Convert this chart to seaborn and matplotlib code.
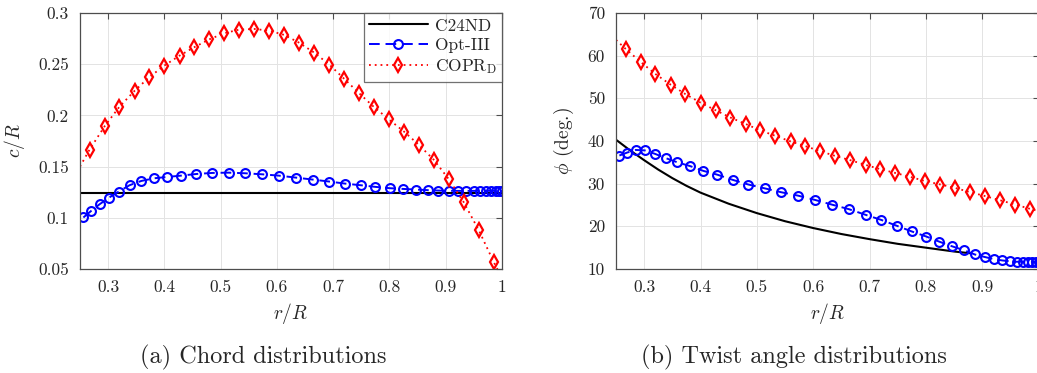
import numpy as np
import pandas as pd
import matplotlib
matplotlib.use("Agg")
import matplotlib.pyplot as plt
import seaborn as sns

# ---------------- data ----------------
# C24ND (baseline)
r_c24_chord = [0.25, 1.00]
c_c24 = [0.1247, 0.1247]
r_c24_twist = [0.25, 0.275, 0.30, 0.325, 0.35, 0.375, 0.40, 0.45, 0.50, 0.55,
               0.60, 0.65, 0.70, 0.75, 0.80, 0.85, 0.878]
phi_c24 = [40.3, 37.8, 35.5, 33.3, 31.3, 29.5, 27.9, 25.3, 23.1, 21.2,
           19.6, 18.2, 17.0, 15.9, 15.0, 14.1, 13.7]

# Opt-III
r_opt = [0.256, 0.270, 0.285, 0.301, 0.319, 0.338, 0.359, 0.382, 0.405, 0.430,
         0.457, 0.485, 0.514, 0.543, 0.573, 0.603, 0.633, 0.664, 0.693, 0.721,
         0.749, 0.775, 0.801, 0.824, 0.847, 0.868, 0.887, 0.905, 0.921, 0.936,
         0.950, 0.961, 0.972, 0.981, 0.989, 0.995, 1.000]
c_opt = [0.1003, 0.1068, 0.1133, 0.1195, 0.1256, 0.1318, 0.1360, 0.1386, 0.1399, 0.1412,
         0.1428, 0.1438, 0.1441, 0.1435, 0.1425, 0.1412, 0.1393, 0.1373, 0.1354, 0.1334,
         0.1318, 0.1302, 0.1289, 0.1282, 0.1276, 0.1270, 0.1266, 0.1264, 0.1263, 0.1263,
         0.1263, 0.1263, 0.1263, 0.1263, 0.1263, 0.1263, 0.1263]
phi_opt = [36.6, 37.3, 37.9, 37.8, 37.0, 36.0, 35.0, 34.1, 33.0, 32.1,
           30.9, 29.8, 28.9, 28.0, 27.2, 26.2, 25.1, 24.0, 22.7, 21.5,
           20.1, 18.8, 17.6, 16.4, 15.3, 14.4, 13.4, 12.8, 12.3, 12.0,
           11.8, 11.7, 11.7, 11.7, 11.7, 11.7, 11.7]

# COPR_D (first and last entries are line-only end points)
r_copr = [0.25, 0.267, 0.294, 0.320, 0.347, 0.373, 0.400, 0.427, 0.453, 0.480,
          0.506, 0.533, 0.560, 0.586, 0.613, 0.639, 0.666, 0.693, 0.719, 0.746,
          0.772, 0.799, 0.826, 0.852, 0.879, 0.905, 0.932, 0.959, 0.985, 1.000]
c_copr = [0.1500, 0.1666, 0.1896, 0.2084, 0.2240, 0.2373, 0.2487, 0.2584, 0.2666, 0.2743,
          0.2802, 0.2838, 0.2844, 0.2828, 0.2786, 0.2711, 0.2614, 0.2497, 0.2360, 0.2217,
          0.2084, 0.1961, 0.1841, 0.1714, 0.1565, 0.1380, 0.1152, 0.0876, 0.0571, 0.0410]
phi_copr = [63.7, 61.6, 58.5, 55.7, 53.2, 51.0, 49.0, 47.2, 45.5, 44.0,
            42.5, 41.2, 39.9, 38.8, 37.6, 36.5, 35.5, 34.4, 33.4, 32.5,
            31.6, 30.6, 29.8, 29.0, 28.0, 27.1, 26.1, 25.1, 24.1, 23.6]

labels = ["C24ND", "Opt-III", r"COPR$_{\rm D}$"]
xticks = [0.3, 0.4, 0.5, 0.6, 0.7, 0.8, 0.9, 1.0]
yticks_chord = [0.05, 0.1, 0.15, 0.2, 0.25, 0.3]
yticks_twist = [10, 20, 30, 40, 50, 60, 70]
captions = ["(a) Chord distributions", "(b) Twist angle distributions"]

# ---------------- style ----------------
sns.set_style("white")
plt.rcParams["font.family"] = ["serif"]
plt.rcParams["font.serif"] = ["cmr10", "DejaVu Serif"]
plt.rcParams["mathtext.fontset"] = "cm"
plt.rcParams["axes.formatter.use_mathtext"] = True
plt.rcParams["axes.unicode_minus"] = False

TXT = "#262626"
AX = "#4d4d4d"

fig = plt.figure(figsize=(10.37, 3.73), dpi=100)
W, H = 1037.0, 373.0
def px_axes(x0, x1, y0, y1):
    return fig.add_axes([x0 / W, 1 - y1 / H, (x1 - x0) / W, (y1 - y0) / H])

ax1 = px_axes(80, 502, 13, 269)
ax2 = px_axes(616, 1038.5, 13, 269)

blue_kw = dict(color="#0000ff", linestyle=(0, (5.5, 3.0)), linewidth=1.4,
               marker="o", markersize=6.4, markerfacecolor="none",
               markeredgewidth=1.5, markeredgecolor="#0000ff")
red_kw = dict(color="#ff0000", linestyle=(0, (1, 2.2)), linewidth=1.3,
              marker="d", markersize=7.5, markerfacecolor="none",
              markeredgewidth=1.6, markeredgecolor="#ff0000",
              markevery=list(range(1, len(r_copr) - 1)))
black_kw = dict(color="black", linestyle="-", linewidth=1.5)

def draw(ax, xb, yb, yo, yc):
    sns.lineplot(x=xb, y=yb, ax=ax, sort=False, estimator=None, label=labels[0], **black_kw)
    sns.lineplot(x=r_opt, y=yo, ax=ax, sort=False, estimator=None, label=labels[1], **blue_kw)
    sns.lineplot(x=r_copr, y=yc, ax=ax, sort=False, estimator=None, label=labels[2], **red_kw)

draw(ax1, r_c24_chord, c_c24, c_opt, c_copr)
draw(ax2, r_c24_twist, phi_c24, phi_opt, phi_copr)

for ax, yt, ylim in [(ax1, yticks_chord, (0.05, 0.3)), (ax2, yticks_twist, (10, 70))]:
    ax.set_xlim(0.25, 1.0)
    ax.set_ylim(*ylim)
    ax.set_xticks(xticks)
    ax.set_xticklabels([("%g" % v) for v in xticks])
    ax.set_yticks(yt)
    ax.set_yticklabels([("%g" % v) for v in yt])
    ax.grid(True, color="#e3e3e3", linewidth=0.7)
    ax.set_axisbelow(True)
    for s in ax.spines.values():
        s.set_visible(True)
        s.set_color(AX)
        s.set_linewidth(0.9)
    ax.tick_params(direction="in", length=4, width=0.8, colors=AX,
                   top=True, right=True, labelsize=12.5, labelcolor=TXT, pad=8)
    ax.set_xlabel(r"$r/R$", fontsize=14, color=TXT, labelpad=4)

ax1.set_ylabel(r"$c/R$", fontsize=14, color=TXT, labelpad=8)
ax2.set_ylabel(r"$\phi$ (deg.)", fontsize=14, color=TXT, labelpad=8)

ax2.get_legend().remove()
leg = ax1.legend(loc="upper right", bbox_to_anchor=(1.0, 1.0), borderaxespad=0,
                 fontsize=12.5, frameon=True, fancybox=False, handlelength=3.4,
                 handletextpad=0.4, labelspacing=0.25, borderpad=0.3)
leg.get_frame().set_edgecolor(AX)
leg.get_frame().set_linewidth(0.9)
for t in leg.get_texts():
    t.set_color(TXT)

fig.text(263 / W, 1 - 357 / H, captions[0], ha="center", va="center", fontsize=17.5, color=TXT)
fig.text(794 / W, 1 - 357 / H, captions[1], ha="center", va="center", fontsize=17.5, color=TXT)

fig.savefig("out.png", dpi=100)
